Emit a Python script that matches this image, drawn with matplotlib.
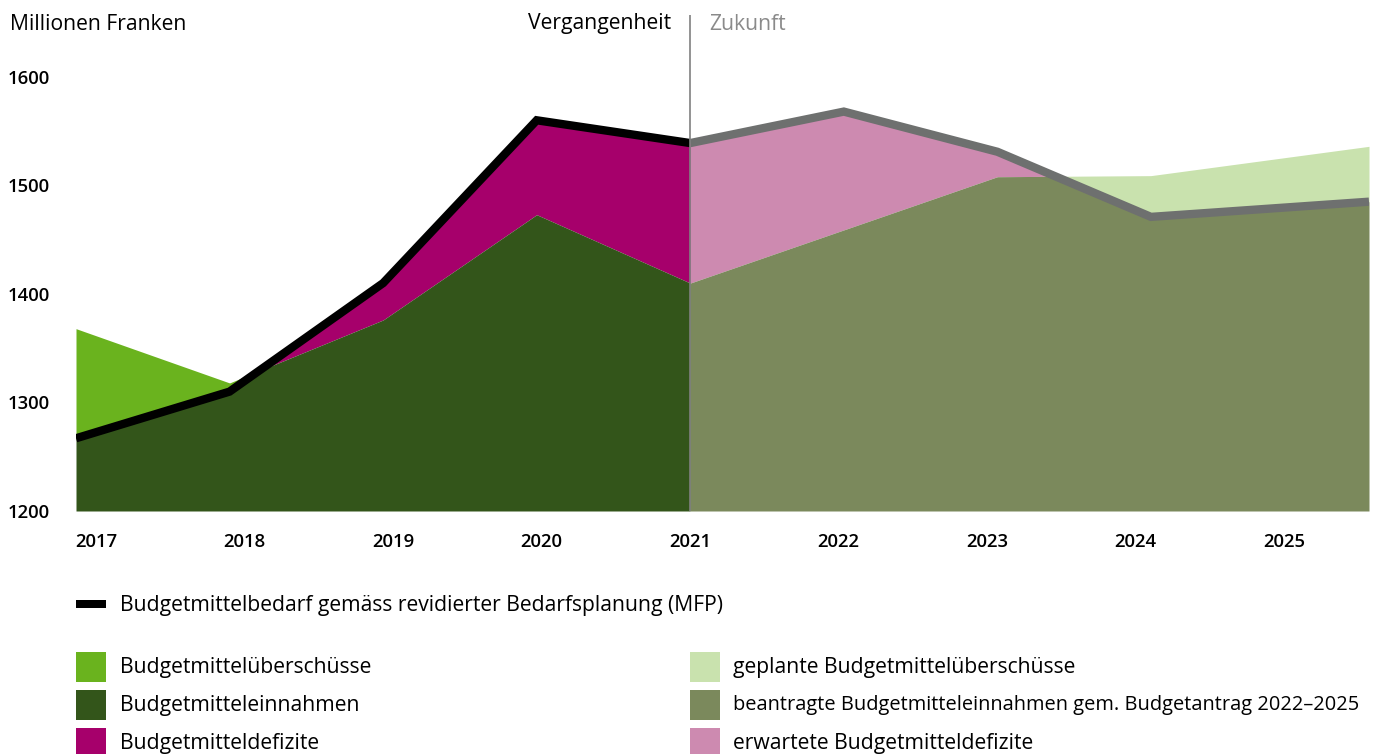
import numpy as np
import matplotlib
matplotlib.use("Agg")
import matplotlib.pyplot as plt
from matplotlib.patches import Rectangle

plt.rcParams['font.family'] = ['Open Sans', 'DejaVu Sans']

# Data (Millionen Franken); last point is the right edge of the chart
years_past = [2017, 2018, 2019, 2020, 2021]
need_past = [1267, 1310, 1410, 1560, 1539]
income_past = [1368, 1318, 1376, 1473, 1410]

years_future = [2021, 2022, 2023, 2024, 2025.42]
need_future = [1539, 1568, 1531, 1471, 1485]
income_future = [1410, 1459, 1508, 1509, 1536]

tick_years = ["2017", "2018", "2019", "2020", "2021", "2022", "2023", "2024", "2025"]
y_ticks = [1200, 1300, 1400, 1500, 1600]

legend_line = "Budgetmittelbedarf gemäss revidierter Bedarfsplanung (MFP)"
legend_left = ["Budgetmittelüberschüsse", "Budgetmitteleinnahmen", "Budgetmitteldefizite"]
legend_right = ["geplante Budgetmittelüberschüsse",
                "beantragte Budgetmitteleinnahmen gem. Budgetantrag 2022–2025",
                "erwartete Budgetmitteldefizite"]

c_surplus, c_income, c_deficit = "#6ab31e", "#33551a", "#a6006b"
c_surplus_f, c_income_f, c_deficit_f = "#c9e2ae", "#7b895c", "#cd8ab0"
c_need, c_need_f = "#000000", "#6e706f"

W, H = 1382, 754
fig = plt.figure(figsize=(W / 100, H / 100), dpi=100)


def px_axes(l, t, r, b):
    return [l / W, 1 - b / H, (r - l) / W, (b - t) / H]


ax = fig.add_axes(px_axes(76, 15, 1369, 511))
ax.patch.set_alpha(0)
ymin, ymax = 1200, 1657


def draw_period(x, need, income, cs, ci, cd, cl):
    x = np.array(x, float)
    need = np.array(need, float)
    income = np.array(income, float)
    # fine grid so min() follows crossings
    xf = np.linspace(x[0], x[-1], 800)
    nf = np.interp(xf, x, need)
    inf_ = np.interp(xf, x, income)
    ax.fill_between(xf, ymin, np.minimum(nf, inf_), color=ci, lw=0, zorder=2)
    ax.fill_between(xf, nf, inf_, where=inf_ >= nf, color=cs, lw=0, zorder=1, interpolate=True)
    ax.fill_between(xf, inf_, nf, where=nf >= inf_, color=cd, lw=0, zorder=1, interpolate=True)
    ax.plot(x, need, color=cl, lw=6, solid_joinstyle="miter", solid_capstyle="butt", zorder=4)


draw_period(years_past, need_past, income_past, c_surplus, c_income, c_deficit, c_need)
draw_period(years_future, need_future, income_future, c_surplus_f, c_income_f, c_deficit_f, c_need_f)

ax.axvline(2021, color="#808080", lw=1.2, zorder=5)
ax.set_xlim(2017, 2025.42)
ax.set_ylim(ymin, ymax)
for s in ax.spines.values():
    s.set_visible(False)

fs = 15.2
ax.set_yticks(y_ticks)
ax.set_yticklabels([str(v) for v in y_ticks], fontsize=13.3, fontweight="semibold", ha="left")
ax.tick_params(axis="y", length=0, pad=49)
tick_pos = 2017.13 + np.arange(len(tick_years)) * 0.967
ax.set_xticks(tick_pos)
ax.set_xticklabels(tick_years, fontsize=13.3, fontweight="semibold")
ax.tick_params(axis="x", length=0, pad=16)

# overlay for header and legend in pixel coords
ov = fig.add_axes([0, 0, 1, 1], zorder=-1)
ov.set_xlim(0, W)
ov.set_ylim(H, 0)
ov.axis("off")

ov.text(10, 24, "Millionen Franken", fontsize=fs, va="center", ha="left")
ov.text(671, 24, "Vergangenheit", fontsize=fs, va="center", ha="right")
ov.text(709, 24, "Zukunft", fontsize=fs, va="center", ha="left", color="#8a8a8a")

ov.add_patch(Rectangle((76, 600), 30, 8, color="black", lw=0))
ov.text(120, 605, legend_line, fontsize=fs, va="center")

row_y = [667, 705, 743]
for y, lab, col in zip(row_y, legend_left, [c_surplus, c_income, c_deficit]):
    ov.add_patch(Rectangle((76, y - 15), 30, 30, color=col, lw=0))
    ov.text(120, y, lab, fontsize=fs, va="center")
for y, lab, col in zip(row_y, legend_right, [c_surplus_f, c_income_f, c_deficit_f]):
    ov.add_patch(Rectangle((690, y - 15), 30, 30, color=col, lw=0))
    t = ov.text(733, y, lab, fontsize=fs, va="center")
    # shrink the long label so it ends at the right edge like the original
    if len(lab) > 40:
        t.set_fontsize(14.4)

fig.savefig("out.png", dpi=100)
